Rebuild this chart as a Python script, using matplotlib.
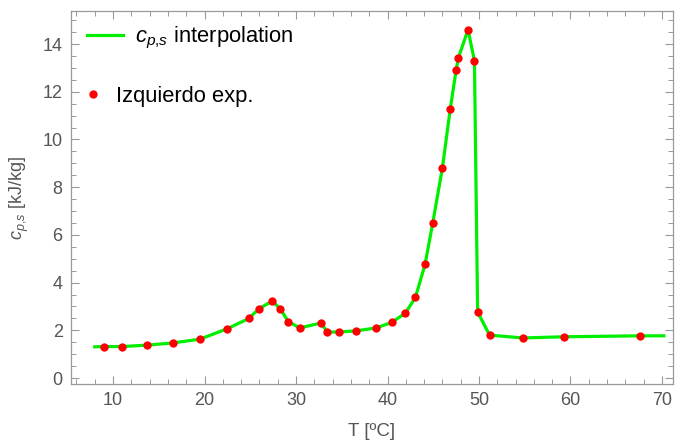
import numpy as np
import matplotlib
matplotlib.use("Agg")
import matplotlib.pyplot as plt
from matplotlib.ticker import MultipleLocator

plt.rcParams['font.family'] = ['Liberation Sans', 'DejaVu Sans']
plt.rcParams['mathtext.fontset'] = 'custom'
plt.rcParams['mathtext.it'] = 'Liberation Sans:italic'
plt.rcParams['mathtext.rm'] = 'Liberation Sans'

# experimental points (Izquierdo)
T_exp = [9.0, 10.95, 13.75, 16.5, 19.5, 22.5, 24.85, 25.9, 27.4, 28.3, 29.15,
         30.4, 32.75, 33.4, 34.7, 36.6, 38.75, 40.45, 41.95, 43.05, 44.1,
         44.95, 46.0, 46.85, 47.5, 47.75, 48.8, 49.5, 49.85, 51.15, 54.8,
         59.3, 67.6]
cp_exp = [1.32, 1.32, 1.38, 1.47, 1.63, 2.07, 2.5, 2.89, 3.23, 2.89, 2.37,
          2.1, 2.31, 1.93, 1.93, 1.98, 2.1, 2.33, 2.72, 3.38, 4.76,
          6.51, 8.81, 11.26, 12.91, 13.43, 14.6, 13.3, 2.77, 1.8, 1.68,
          1.73, 1.77]

# interpolation curve ends
T_start, cp_start = 8.0, 1.31
T_end, cp_end = 70.2, 1.77

T_line = [T_start] + T_exp + [T_end]
cp_line = [cp_start] + cp_exp + [cp_end]

fig = plt.figure(figsize=(6.76, 4.46), dpi=100)
ax = fig.add_axes([0.105, 0.139, 0.8905, 0.836])

ln, = ax.plot(T_line, cp_line, color='#00ee00', lw=2.3, zorder=2)
pts, = ax.plot(T_exp, cp_exp, 'o', color='#ff0000', ms=6, mec='none', zorder=3)

ax.set_xlim(5.4, 71.2)
ax.set_ylim(-0.25, 15.38)

ax.xaxis.set_major_locator(MultipleLocator(10))
ax.xaxis.set_minor_locator(MultipleLocator(2))
ax.yaxis.set_major_locator(MultipleLocator(2))
ax.yaxis.set_minor_locator(MultipleLocator(0.5))

gray = '#999999'
for s in ax.spines.values():
    s.set_color(gray)
    s.set_linewidth(0.9)
ax.tick_params(which='both', direction='in', top=True, right=True,
               color=gray, labelcolor='#555555', labelsize=13)
ax.tick_params(which='major', length=6, width=0.8, pad=6)
ax.tick_params(which='minor', length=3.5, width=0.7)

ax.set_xlabel('T [ºC]', color='#555555', fontsize=13.5, labelpad=10)
ax.set_ylabel(r'$c_{p{,}s}$ [kJ/kg]', color='#555555', fontsize=13, labelpad=8)

# two legend entries, placed like the original
leg1 = ax.legend([ln], [r'$c_{p{,}s}$ interpolation'], loc='center left',
                 bbox_to_anchor=(0.0266, 0.928), frameon=False, fontsize=15.8,
                 handlelength=1.65, handletextpad=0.55, borderpad=0,
                 borderaxespad=0)
ax.add_artist(leg1)
ax.legend([pts], ['Izquierdo exp.'], loc='center left',
          bbox_to_anchor=(0.0266, 0.772), frameon=False, fontsize=15.8,
          handlelength=0.55, handletextpad=0.75, borderpad=0,
          borderaxespad=0, numpoints=1)

fig.savefig('out.png', dpi=100)
